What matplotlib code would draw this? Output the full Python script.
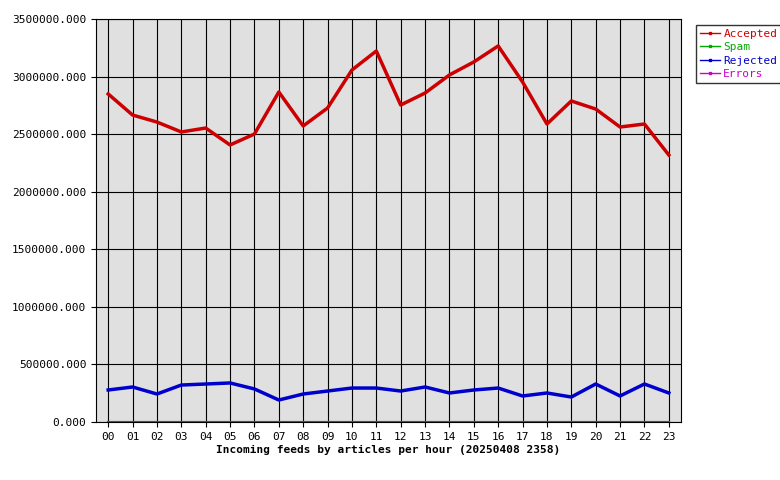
import matplotlib
matplotlib.use("Agg")
import matplotlib.pyplot as plt
from matplotlib.lines import Line2D
from matplotlib.ticker import FuncFormatter

hours = ["%02d" % h for h in range(24)]
accepted = [2849000, 2666000, 2605000, 2519000, 2553000, 2406000, 2501000, 2866000,
            2571000, 2727000, 3057000, 3222000, 2753000, 2857000, 3014000, 3127000,
            3266000, 2953000, 2588000, 2788000, 2718000, 2562000, 2588000, 2319000]
spam = [0] * 24
rejected = [278000, 304000, 243000, 321000, 330000, 339000, 287000, 191000,
            243000, 269000, 295000, 295000, 269000, 304000, 252000, 278000,
            295000, 226000, 252000, 217000, 330000, 226000, 330000, 252000]
errors = [3000] * 24

series = [("Accepted", accepted, "#cc0000"), ("Spam", spam, "#00aa00"),
          ("Rejected", rejected, "#0000cc"), ("Errors", errors, "#cc00cc")]

plt.rcParams['font.family'] = ['DejaVu Sans Mono']
fig = plt.figure(figsize=(7.8, 4.8), dpi=100)
ax = fig.add_axes([96/780, 58/480, 585/780, 403/480])
ax.set_facecolor("#e0e0e0")
x = list(range(24))
for name, vals, c in series:
    ax.plot(x, vals, color=c, lw=2.5 if name in ("Accepted", "Rejected") else 1.5)
ax.set_xlim(-0.5, 23.5)
ax.set_ylim(0, 3500000)
ax.set_xticks(x)
ax.set_xticklabels(hours, fontsize=8)
ax.set_yticks(range(0, 3500001, 500000))
ax.yaxis.set_major_formatter(FuncFormatter(lambda v, p: "%.3f" % v))
ax.tick_params(axis='y', labelsize=8)
ax.grid(True, color="black", lw=0.8)
ax.set_axisbelow(True)
ax.set_xlabel("Incoming feeds by articles per hour (20250408 2358)", fontsize=8,
              fontweight="bold", labelpad=2)
handles = [Line2D([0], [0], color=c, lw=1, marker='s', markersize=2) for _, _, c in series]
leg = fig.legend(handles, [s[0] for s in series], loc="upper left",
                 bbox_to_anchor=(690/780, 1 - 19/480), fontsize=8, frameon=True,
                 fancybox=False, edgecolor="black", handlelength=1.8, borderpad=0.4,
                 labelspacing=0.3, handletextpad=0.3)
for t, (_, _, c) in zip(leg.get_texts(), series):
    t.set_color(c)
fig.savefig("out.png", dpi=100)
